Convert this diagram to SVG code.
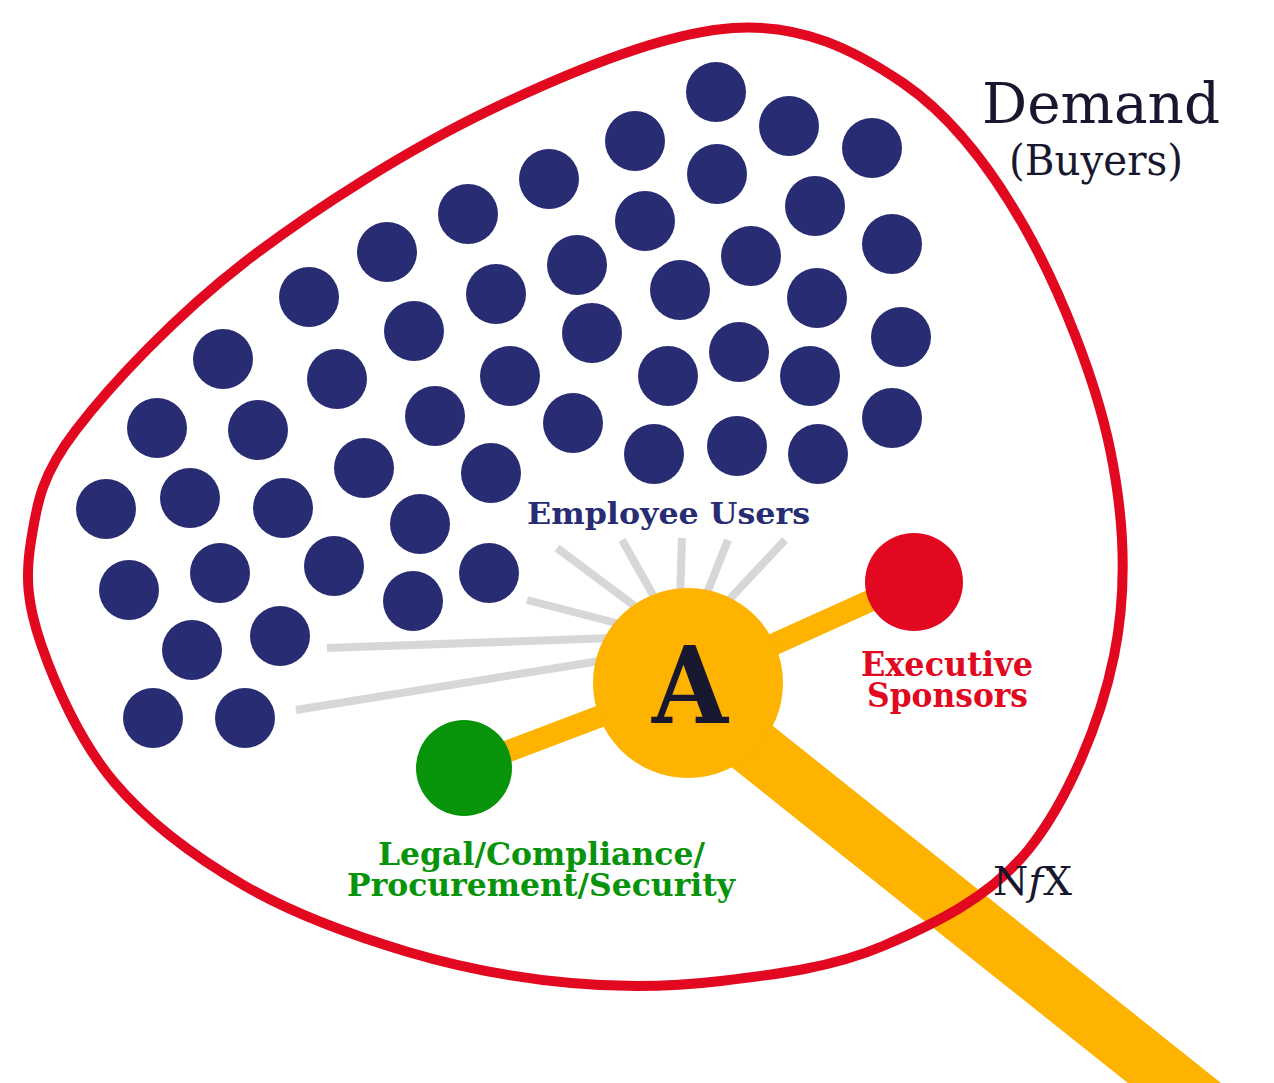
<svg xmlns="http://www.w3.org/2000/svg" width="1274" height="1083" viewBox="0 0 1274 1083">
<style>
.dot{fill:#272C73}
.ray{stroke:#D7D7D7;stroke-width:8;fill:none}
.link{stroke:#FDB300;stroke-width:22;fill:none}
.lbl{font-family:"DejaVu Serif","Liberation Serif",serif;font-weight:bold}
.ttl{font-family:"DejaVu Serif","Liberation Serif",serif;fill:#17172F}
</style>
<rect width="1274" height="1083" fill="#FFFFFF"/>
<g id="connectors">
<line class="ray" x1="622" y1="540" x2="657" y2="602"/>
<line class="ray" x1="682" y1="538" x2="680" y2="600"/>
<line class="ray" x1="728" y1="540" x2="705" y2="598"/>
<line class="ray" x1="785" y1="540" x2="726" y2="603"/>
<line class="ray" x1="557" y1="548" x2="640" y2="610"/>
<line class="ray" x1="527" y1="600" x2="624" y2="625"/>
<line class="ray" x1="327" y1="648" x2="614" y2="638"/>
<line class="ray" x1="296" y1="710" x2="606" y2="660"/>
<line class="link" x1="688" y1="683" x2="464" y2="768"/>
<line class="link" x1="688" y1="683" x2="914" y2="581"/>
<line id="trunk" x1="700" y1="705" x2="1300" y2="1183" stroke="#FDB300" stroke-width="58"/>
</g>
<g id="users">
<circle class="dot" cx="716" cy="92" r="30"/>
<circle class="dot" cx="789" cy="126" r="30"/>
<circle class="dot" cx="872" cy="148" r="30"/>
<circle class="dot" cx="635" cy="141" r="30"/>
<circle class="dot" cx="717" cy="174" r="30"/>
<circle class="dot" cx="549" cy="179" r="30"/>
<circle class="dot" cx="815" cy="206" r="30"/>
<circle class="dot" cx="468" cy="214" r="30"/>
<circle class="dot" cx="645" cy="221" r="30"/>
<circle class="dot" cx="892" cy="244" r="30"/>
<circle class="dot" cx="387" cy="252" r="30"/>
<circle class="dot" cx="577" cy="265" r="30"/>
<circle class="dot" cx="751" cy="256" r="30"/>
<circle class="dot" cx="309" cy="297" r="30"/>
<circle class="dot" cx="496" cy="294" r="30"/>
<circle class="dot" cx="680" cy="290" r="30"/>
<circle class="dot" cx="817" cy="298" r="30"/>
<circle class="dot" cx="414" cy="331" r="30"/>
<circle class="dot" cx="592" cy="333" r="30"/>
<circle class="dot" cx="901" cy="337" r="30"/>
<circle class="dot" cx="223" cy="359" r="30"/>
<circle class="dot" cx="739" cy="352" r="30"/>
<circle class="dot" cx="337" cy="379" r="30"/>
<circle class="dot" cx="510" cy="376" r="30"/>
<circle class="dot" cx="668" cy="376" r="30"/>
<circle class="dot" cx="810" cy="376" r="30"/>
<circle class="dot" cx="157" cy="428" r="30"/>
<circle class="dot" cx="258" cy="430" r="30"/>
<circle class="dot" cx="435" cy="416" r="30"/>
<circle class="dot" cx="573" cy="423" r="30"/>
<circle class="dot" cx="892" cy="418" r="30"/>
<circle class="dot" cx="654" cy="454" r="30"/>
<circle class="dot" cx="737" cy="446" r="30"/>
<circle class="dot" cx="818" cy="454" r="30"/>
<circle class="dot" cx="364" cy="468" r="30"/>
<circle class="dot" cx="491" cy="473" r="30"/>
<circle class="dot" cx="106" cy="509" r="30"/>
<circle class="dot" cx="190" cy="498" r="30"/>
<circle class="dot" cx="283" cy="508" r="30"/>
<circle class="dot" cx="420" cy="524" r="30"/>
<circle class="dot" cx="129" cy="590" r="30"/>
<circle class="dot" cx="220" cy="573" r="30"/>
<circle class="dot" cx="334" cy="566" r="30"/>
<circle class="dot" cx="489" cy="573" r="30"/>
<circle class="dot" cx="413" cy="601" r="30"/>
<circle class="dot" cx="192" cy="650" r="30"/>
<circle class="dot" cx="280" cy="636" r="30"/>
<circle class="dot" cx="153" cy="718" r="30"/>
<circle class="dot" cx="245" cy="718" r="30"/>
</g>
<g id="hub">
<circle cx="688" cy="683" r="95" fill="#FDB300"/>
<text x="690" y="723" text-anchor="middle" class="lbl" font-size="106" fill="#17172F" textLength="76" lengthAdjust="spacingAndGlyphs">A</text>
</g>
<g id="executive">
<circle cx="914" cy="582" r="49" fill="#E1081F"/>
<text class="lbl" fill="#E1081F" font-size="33" x="861" y="676" textLength="172" lengthAdjust="spacingAndGlyphs">Executive</text>
<text class="lbl" fill="#E1081F" font-size="33" x="867" y="707" textLength="161" lengthAdjust="spacingAndGlyphs">Sponsors</text>
</g>
<g id="legal">
<circle cx="464" cy="768" r="48" fill="#08940A"/>
<text class="lbl" fill="#08940A" font-size="31" x="378" y="865" textLength="327" lengthAdjust="spacingAndGlyphs">Legal/Compliance/</text>
<text class="lbl" fill="#08940A" font-size="31" x="347" y="896" textLength="388" lengthAdjust="spacingAndGlyphs">Procurement/Security</text>
</g>
<g id="employee-users">
<text class="lbl" fill="#272C73" font-size="30" x="527" y="524" textLength="283" lengthAdjust="spacingAndGlyphs">Employee Users</text>
</g>
<g id="demand">
<path d="M733,28 C801.8,23.5 854.3,49.7 903,83 C951.7,116.3 990.5,167 1025,228 C1059.5,289 1095.2,377.7 1110,449 C1124.8,520.3 1127.5,589.3 1114,656 C1100.5,722.7 1067.5,800.7 1029,849 C990.5,897.3 934.3,924 883,946 C831.7,968 773,974.8 721,981 C669,987.2 623.2,987.8 571,983 C518.8,978.2 462.3,968.2 408,952 C353.7,935.8 294,914.3 245,886 C196,857.7 148,822.3 114,782 C80,741.7 54.8,684.2 41,644 C27.2,603.8 25.2,576.7 31,541 C36.8,505.3 40.3,476.5 76,430 C111.7,383.5 176,315.3 245,262 C314,208.7 408.7,149 490,110 C571.3,71 664.2,32.5 733,28 Z" fill="none" stroke="#E1081F" stroke-width="10"/>
<text class="ttl" font-size="56" x="982" y="123" textLength="238" lengthAdjust="spacingAndGlyphs">Demand</text>
<text class="ttl" font-size="43" x="1009" y="175" textLength="174" lengthAdjust="spacingAndGlyphs">(Buyers)</text>
</g>
<g id="logo">
<text class="ttl" font-size="40" x="993" y="895" textLength="79" lengthAdjust="spacingAndGlyphs">N<tspan font-style="italic">f</tspan>X</text>
</g>
</svg>
